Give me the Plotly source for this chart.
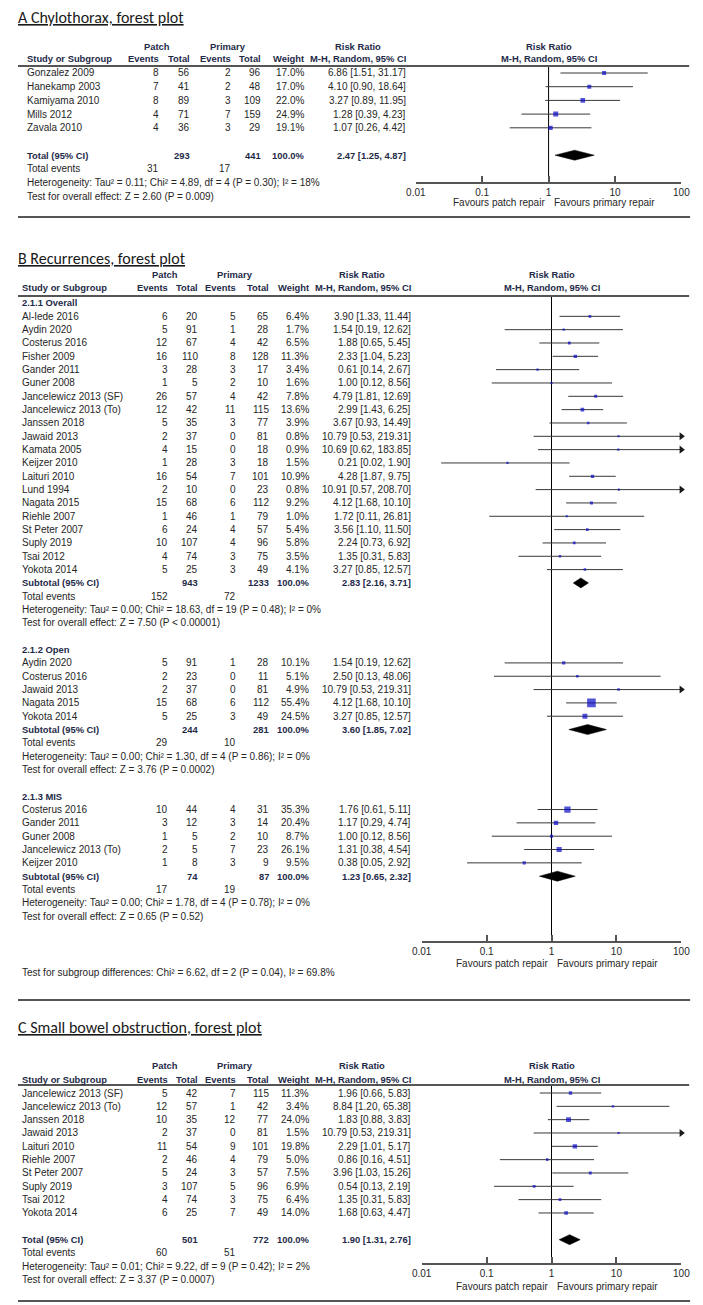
import plotly.graph_objects as go

# page geometry: the html body adds an 8px margin, so the figure is drawn 8px in
OFF = 8
PAGE_W, PAGE_H = 703, 1305
W, H = PAGE_W - OFF, PAGE_H - OFF

# ------------------------------------------------------------------ data
# Panel A : Chylothorax
a_study = ["Gonzalez 2009", "Hanekamp 2003", "Kamiyama 2010", "Mills 2012", "Zavala 2010"]
a_ev_patch = [8, 7, 8, 4, 4]
a_tot_patch = [56, 41, 89, 71, 36]
a_ev_prim = [2, 2, 3, 7, 3]
a_tot_prim = [96, 48, 109, 159, 29]
a_weight = [17.0, 17.0, 22.0, 24.9, 19.1]
a_rr = [6.86, 4.10, 3.27, 1.28, 1.07]
a_lo = [1.51, 0.90, 0.89, 0.39, 0.26]
a_hi = [31.17, 18.64, 11.95, 4.23, 4.42]
a_total = dict(label="Total (95% CI)", tot_patch=293, tot_prim=441, rr=2.47, lo=1.25, hi=4.87,
               ev_patch=31, ev_prim=17,
               het="Heterogeneity: Tau² = 0.11; Chi² = 4.89, df = 4 (P = 0.30); I² = 18%",
               test="Test for overall effect: Z = 2.60 (P = 0.009)")

# Panel B : Recurrences, subgroup 2.1.1 Overall
b1_study = ["Al-Iede 2016", "Aydin 2020", "Costerus 2016", "Fisher 2009", "Gander 2011", "Guner 2008",
            "Jancelewicz 2013 (SF)", "Jancelewicz 2013 (To)", "Janssen 2018", "Jawaid 2013",
            "Kamata 2005", "Keijzer 2010", "Laituri 2010", "Lund 1994", "Nagata 2015", "Riehle 2007",
            "St Peter 2007", "Suply 2019", "Tsai 2012", "Yokota 2014"]
b1_ev_patch = [6, 5, 12, 16, 3, 1, 26, 12, 5, 2, 4, 1, 16, 2, 15, 1, 6, 10, 4, 5]
b1_tot_patch = [20, 91, 67, 110, 28, 5, 57, 42, 35, 37, 15, 28, 54, 10, 68, 46, 24, 107, 74, 25]
b1_ev_prim = [5, 1, 4, 8, 3, 2, 4, 11, 3, 0, 0, 3, 7, 0, 6, 1, 4, 4, 3, 3]
b1_tot_prim = [65, 28, 42, 128, 17, 10, 42, 115, 77, 81, 18, 18, 101, 23, 112, 79, 57, 96, 75, 49]
b1_weight = [6.4, 1.7, 6.5, 11.3, 3.4, 1.6, 7.8, 13.6, 3.9, 0.8, 0.9, 1.5, 10.9, 0.8, 9.2, 1.0, 5.4, 5.8, 3.5, 4.1]
b1_rr = [3.90, 1.54, 1.88, 2.33, 0.61, 1.00, 4.79, 2.99, 3.67, 10.79, 10.69, 0.21, 4.28, 10.91, 4.12, 1.72, 3.56, 2.24, 1.35, 3.27]
b1_lo = [1.33, 0.19, 0.65, 1.04, 0.14, 0.12, 1.81, 1.43, 0.93, 0.53, 0.62, 0.02, 1.87, 0.57, 1.68, 0.11, 1.10, 0.73, 0.31, 0.85]
b1_hi = [11.44, 12.62, 5.45, 5.23, 2.67, 8.56, 12.69, 6.25, 14.49, 219.31, 183.85, 1.90, 9.75, 208.70, 10.10, 26.81, 11.50, 6.92, 5.83, 12.57]
b1_sub = dict(title="2.1.1 Overall", label="Subtotal (95% CI)", tot_patch=943, tot_prim=1233,
              rr=2.83, lo=2.16, hi=3.71, ev_patch=152, ev_prim=72,
              het="Heterogeneity: Tau² = 0.00; Chi² = 18.63, df = 19 (P = 0.48); I² = 0%",
              test="Test for overall effect: Z = 7.50 (P < 0.00001)")

# subgroup 2.1.2 Open
b2_study = ["Aydin 2020", "Costerus 2016", "Jawaid 2013", "Nagata 2015", "Yokota 2014"]
b2_ev_patch = [5, 2, 2, 15, 5]
b2_tot_patch = [91, 23, 37, 68, 25]
b2_ev_prim = [1, 0, 0, 6, 3]
b2_tot_prim = [28, 11, 81, 112, 49]
b2_weight = [10.1, 5.1, 4.9, 55.4, 24.5]
b2_rr = [1.54, 2.50, 10.79, 4.12, 3.27]
b2_lo = [0.19, 0.13, 0.53, 1.68, 0.85]
b2_hi = [12.62, 48.06, 219.31, 10.10, 12.57]
b2_sub = dict(title="2.1.2 Open", label="Subtotal (95% CI)", tot_patch=244, tot_prim=281,
              rr=3.60, lo=1.85, hi=7.02, ev_patch=29, ev_prim=10,
              het="Heterogeneity: Tau² = 0.00; Chi² = 1.30, df = 4 (P = 0.86); I² = 0%",
              test="Test for overall effect: Z = 3.76 (P = 0.0002)")

# subgroup 2.1.3 MIS
b3_study = ["Costerus 2016", "Gander 2011", "Guner 2008", "Jancelewicz 2013 (To)", "Keijzer 2010"]
b3_ev_patch = [10, 3, 1, 2, 1]
b3_tot_patch = [44, 12, 5, 5, 8]
b3_ev_prim = [4, 3, 2, 7, 3]
b3_tot_prim = [31, 14, 10, 23, 9]
b3_weight = [35.3, 20.4, 8.7, 26.1, 9.5]
b3_rr = [1.76, 1.17, 1.00, 1.31, 0.38]
b3_lo = [0.61, 0.29, 0.12, 0.38, 0.05]
b3_hi = [5.11, 4.74, 8.56, 4.54, 2.92]
b3_sub = dict(title="2.1.3 MIS", label="Subtotal (95% CI)", tot_patch=74, tot_prim=87,
              rr=1.23, lo=0.65, hi=2.32, ev_patch=17, ev_prim=19,
              het="Heterogeneity: Tau² = 0.00; Chi² = 1.78, df = 4 (P = 0.78); I² = 0%",
              test="Test for overall effect: Z = 0.65 (P = 0.52)")
b_diff = "Test for subgroup differences: Chi² = 6.62, df = 2 (P = 0.04), I² = 69.8%"

# Panel C : Small bowel obstruction
c_study = ["Jancelewicz 2013 (SF)", "Jancelewicz 2013 (To)", "Janssen 2018", "Jawaid 2013", "Laituri 2010",
           "Riehle 2007", "St Peter 2007", "Suply 2019", "Tsai 2012", "Yokota 2014"]
c_ev_patch = [5, 12, 10, 2, 11, 2, 5, 3, 4, 6]
c_tot_patch = [42, 57, 35, 37, 54, 46, 24, 107, 74, 25]
c_ev_prim = [7, 1, 12, 0, 9, 4, 3, 5, 3, 7]
c_tot_prim = [115, 42, 77, 81, 101, 79, 57, 96, 75, 49]
c_weight = [11.3, 3.4, 24.0, 1.5, 19.8, 5.0, 7.5, 6.9, 6.4, 14.0]
c_rr = [1.96, 8.84, 1.83, 10.79, 2.29, 0.86, 3.96, 0.54, 1.35, 1.68]
c_lo = [0.66, 1.20, 0.88, 0.53, 1.01, 0.16, 1.03, 0.13, 0.31, 0.63]
c_hi = [5.83, 65.38, 3.83, 219.31, 5.17, 4.51, 15.26, 2.19, 5.83, 4.47]
c_total = dict(label="Total (95% CI)", tot_patch=501, tot_prim=772, rr=1.90, lo=1.31, hi=2.76,
               ev_patch=60, ev_prim=51,
               het="Heterogeneity: Tau² = 0.01; Chi² = 9.22, df = 9 (P = 0.42); I² = 2%",
               test="Test for overall effect: Z = 3.37 (P = 0.0007)")

titles = ["A Chylothorax, forest plot", "B Recurrences, forest plot", "C Small bowel obstruction, forest plot"]
tick_vals = [0.01, 0.1, 1, 10, 100]
tick_text = ["0.01", "0.1", "1", "10", "100"]
favours = ["Favours patch repair", "Favours primary repair"]

# ------------------------------------------------------------------ style / layout helpers
FONT = "Liberation Sans, Arial, sans-serif"
TFONT = "Carlito, Lato, sans-serif"
TXT = "#262626"
HDR = "#1e2a48"
SQ = "#0a0ac8"
CI_COL = "#383838"
RULE = "#555555"
FS = 10
FSB = 9.4


def py(p):
    return 1 - (p - OFF) / H


def px(p):
    return (p - OFF) / W


fig = go.Figure()
ann = []
shapes = []


def text(x, y, s, anchor="left", bold=False, size=None, color=None, family=FONT):
    if size is None:
        size = FSB if bold else FS
    ann.append(dict(x=px(x), y=py(y), xref="paper", yref="paper",
                    text=f"<b>{s}</b>" if bold else s, showarrow=False,
                    xanchor=anchor, yanchor="middle", borderpad=0, borderwidth=0,
                    font=dict(family=family, size=size, color=color or (HDR if bold else TXT))))


def hline(y, x0=8, x1=698, width=2):
    shapes.append(dict(type="line", xref="paper", yref="paper", x0=px(x0), x1=px(x1),
                       y0=py(y), y1=py(y), line=dict(color=RULE, width=width)))


panels = [
    dict(ax="", cols=dict(name=17, ev1=153, tot1=185, ev2=227, tot2=258, wt=302, ci=407),
         patch_c=151, prim_c=224, rr_c=358, xl=417, xr=690, title_y=17, hdr1=46, hdr2=59,
         hl=66, first=73, s=13.7, axis=182, fav=202),
    dict(ax="2", cols=dict(name=12, ev1=162, tot1=193, ev2=232, tot2=266, wt=307, ci=412),
         patch_c=159, prim_c=231, rr_c=362, xl=423, xr=690, title_y=258, hdr1=275, hdr2=288,
         hl=296, first=303, s=13.33, axis=941, fav=963),
    dict(ax="3", cols=dict(name=12, ev1=162, tot1=193, ev2=232, tot2=266, wt=307, ci=412),
         patch_c=159, prim_c=231, rr_c=362, xl=423, xr=690, title_y=1027, hdr1=1065, hdr2=1079,
         hl=1085, first=1093, s=13.33, axis=1263, fav=1286),
]


def fmt_ci(rr, lo, hi):
    return f"{rr:.2f} [{lo:.2f}, {hi:.2f}]"


def rowy(p, r):
    return p["first"] + r * p["s"]


def add_studies(p, r0, study, evp, totp, evq, totq, wt, rr, lo, hi):
    c = p["cols"]
    rows = [r0 + i for i in range(len(study))]
    for i, r in enumerate(rows):
        y = rowy(p, r)
        text(c["name"], y, study[i])
        text(c["ev1"], y, str(evp[i]), "right")
        text(c["tot1"], y, str(totp[i]), "right")
        text(c["ev2"], y, str(evq[i]), "right")
        text(c["tot2"], y, str(totq[i]), "right")
        text(c["wt"], y, f"{wt[i]:.1f}%", "right")
        text(c["ci"], y, fmt_ci(rr[i], lo[i], hi[i]), "right")
    xa, ya = "x" + p["ax"], "y" + p["ax"]
    # confidence interval lines
    lx, ly = [], []
    for i, r in enumerate(rows):
        lx += [lo[i], hi[i], None]
        ly += [r, r, None]
    fig.add_trace(go.Scatter(x=lx, y=ly, mode="lines", line=dict(color=CI_COL, width=1),
                             xaxis=xa, yaxis=ya, hoverinfo="skip"))
    # arrows where the interval runs off the scale
    ax_x = [tick_vals[-1] for i in range(len(rows)) if hi[i] > tick_vals[-1]]
    ax_y = [rows[i] for i in range(len(rows)) if hi[i] > tick_vals[-1]]
    if ax_x:
        fig.add_trace(go.Scatter(x=ax_x, y=ax_y, mode="markers", cliponaxis=False,
                                 marker=dict(symbol="triangle-right", size=7, color="#1a1a1a"),
                                 xaxis=xa, yaxis=ya, hoverinfo="skip"))
    # weighted squares
    fig.add_trace(go.Scatter(x=rr, y=rows, mode="markers",
                             marker=dict(symbol="square", color=SQ, line=dict(width=0),
                                         size=[2 + 0.12 * w for w in wt]),
                             xaxis=xa, yaxis=ya, hoverinfo="skip"))


def add_summary(p, r, d):
    c = p["cols"]
    y = rowy(p, r)
    text(c["name"], y, d["label"], bold=True)
    text(c["tot1"], y, str(d["tot_patch"]), "right", bold=True)
    text(c["tot2"], y, str(d["tot_prim"]), "right", bold=True)
    text(c["wt"], y, "100.0%", "right", bold=True)
    text(c["ci"], y, fmt_ci(d["rr"], d["lo"], d["hi"]), "right", bold=True)
    h = 5.0 / p["s"]
    fig.add_trace(go.Scatter(x=[d["lo"], d["rr"], d["hi"], d["rr"], d["lo"]],
                             y=[r, r - h, r, r + h, r], mode="lines", fill="toself",
                             fillcolor="black", line=dict(color="black", width=0.5),
                             xaxis="x" + p["ax"], yaxis="y" + p["ax"], hoverinfo="skip"))
    y1 = rowy(p, r + 1)
    text(c["name"], y1, "Total events")
    text(c["ev1"], y1, str(d["ev_patch"]), "right")
    text(c["ev2"], y1, str(d["ev_prim"]), "right")
    text(c["name"], rowy(p, r + 2), d["het"])
    text(c["name"], rowy(p, r + 3), d["test"])


# common panel furniture
for k, p in enumerate(panels):
    c = p["cols"]
    text(8, p["title_y"], f"<u>{titles[k]}</u>", size=16, color="#1a1a1a", family=TFONT)
    text(p["patch_c"], p["hdr1"], "Patch", "center", bold=True)
    text(p["prim_c"], p["hdr1"], "Primary", "center", bold=True)
    text(p["rr_c"], p["hdr1"], "Risk Ratio", "center", bold=True)
    text(c["name"], p["hdr2"], "Study or Subgroup", bold=True)
    text(c["ev1"], p["hdr2"], "Events", "right", bold=True)
    text(c["tot1"], p["hdr2"], "Total", "right", bold=True)
    text(c["ev2"], p["hdr2"], "Events", "right", bold=True)
    text(c["tot2"], p["hdr2"], "Total", "right", bold=True)
    text(c["wt"], p["hdr2"], "Weight", "right", bold=True)
    text(c["ci"], p["hdr2"], "M-H, Random, 95% CI", "right", bold=True)
    mid = p["xl"] + (p["xr"] - p["xl"]) / 2
    text(mid, p["hdr1"], "Risk Ratio", "center", bold=True)
    text(mid, p["hdr2"], "M-H, Random, 95% CI", "center", bold=True)
    text(mid - 4, p["fav"], favours[0], "right")
    text(mid + 6, p["fav"], favours[1], "left")
    hline(p["hl"])
    ax = p["ax"]
    r_bot = (p["axis"] - p["first"]) / p["s"]
    r_top = (p["hl"] - p["first"]) / p["s"]
    fig.update_layout(**{
        "xaxis" + ax: dict(type="log", range=[-2, 2], domain=[px(p["xl"]), px(p["xr"])],
                           anchor="y" + ax, showline=True, linecolor=RULE, linewidth=2,
                           ticks="inside", ticklen=6, tickwidth=1.5, tickcolor=RULE,
                           tickvals=tick_vals, ticktext=tick_text, showgrid=False, zeroline=False,
                           tickfont=dict(family=FONT, size=FS, color=TXT), fixedrange=True),
        "yaxis" + ax: dict(domain=[py(p["axis"]), py(p["hl"])], range=[r_bot, r_top],
                           visible=False, fixedrange=True),
    })
    shapes.append(dict(type="line", xref="x" + ax, yref=("y" + ax + " domain"),
                       x0=1, x1=1, y0=0, y1=1, line=dict(color="black", width=1), layer="below"))

# Panel A
pA = panels[0]
add_studies(pA, 0, a_study, a_ev_patch, a_tot_patch, a_ev_prim, a_tot_prim, a_weight, a_rr, a_lo, a_hi)
add_summary(pA, len(a_study) + 1, a_total)

# Panel B
pB = panels[1]
r = 0
for sub, st, e1, t1, e2, t2, w, rr, lo, hi in [
        (b1_sub, b1_study, b1_ev_patch, b1_tot_patch, b1_ev_prim, b1_tot_prim, b1_weight, b1_rr, b1_lo, b1_hi),
        (b2_sub, b2_study, b2_ev_patch, b2_tot_patch, b2_ev_prim, b2_tot_prim, b2_weight, b2_rr, b2_lo, b2_hi),
        (b3_sub, b3_study, b3_ev_patch, b3_tot_patch, b3_ev_prim, b3_tot_prim, b3_weight, b3_rr, b3_lo, b3_hi)]:
    text(pB["cols"]["name"], rowy(pB, r), sub["title"], bold=True)
    add_studies(pB, r + 1, st, e1, t1, e2, t2, w, rr, lo, hi)
    add_summary(pB, r + 1 + len(st), sub)
    r = r + 1 + len(st) + 5
text(pB["cols"]["name"], 972, b_diff)

# Panel C
pC = panels[2]
add_studies(pC, 0, c_study, c_ev_patch, c_tot_patch, c_ev_prim, c_tot_prim, c_weight, c_rr, c_lo, c_hi)
add_summary(pC, len(c_study) + 1, c_total)

# panel separators
hline(217, 8, 699)
hline(1000, 8, 699)
hline(1301, 8, 699)

fig.update_layout(width=W, height=H, margin=dict(l=0, r=0, t=0, b=0),
                  paper_bgcolor="white", plot_bgcolor="rgba(0,0,0,0)",
                  showlegend=False, hovermode=False, annotations=ann, shapes=shapes)

fig.write_html("out.html", config={"displayModeBar": False})
